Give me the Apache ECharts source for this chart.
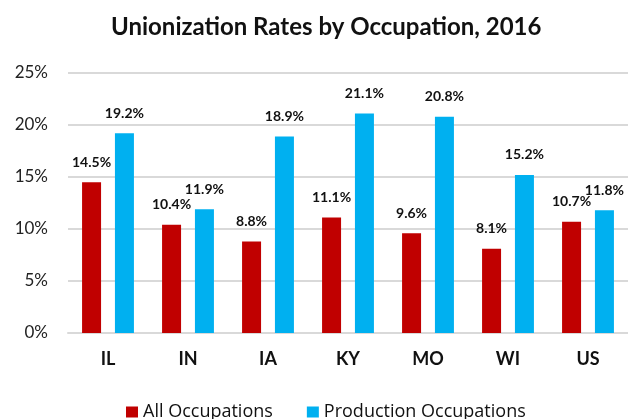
<!DOCTYPE html>
<html>
<head>
<meta charset="utf-8">
<script src="https://cdn.jsdelivr.net/npm/echarts@6/dist/echarts.min.js"></script>
<style>
  html, body { margin: 0; padding: 0; background: #fff; }
  #chart { width: 628px; height: 419px; }
</style>
</head>
<body>
<div id="chart"></div>
<script>
// 数据
var states = ['IL', 'IN', 'IA', 'KY', 'MO', 'WI', 'US'];
var allOccupations = [14.5, 10.4, 8.8, 11.1, 9.6, 8.1, 10.7];
var productionOccupations = [19.2, 11.9, 18.9, 21.1, 20.8, 15.2, 11.8];
var yTicks = [0, 5, 10, 15, 20, 25];

var font = 'Lato, "Open Sans", sans-serif';
var myChart = echarts.init(document.getElementById('chart'));

var labelStyle = {
    show: true,
    position: 'top',
    distance: 13,
    fontFamily: font,
    fontWeight: 'bold',
    fontSize: 14,
    color: '#111',
    formatter: function (p) { return p.value.toFixed(1) + '%'; }
};

var option = {
    animation: false,
    title: {
        text: 'Unionization Rates by Occupation, 2016',
        left: 106,
        top: 10,
        textStyle: { fontFamily: font, fontWeight: 'bold', fontSize: 24, color: '#111' }
    },
    grid: { left: 68, right: 0, top: 73, bottom: 86 },
    legend: {
        top: 398,
        left: 121,
        itemWidth: 12,
        itemHeight: 11,
        itemGap: 34,
        icon: 'rect',
        textStyle: { fontFamily: '"Open Sans", sans-serif', fontSize: 18, color: '#111' },
        data: ['All Occupations', 'Production Occupations']
    },
    xAxis: {
        type: 'category',
        data: states,
        axisTick: { show: false },
        axisLine: { lineStyle: { color: '#d9d9d9', width: 2 } },
        axisLabel: { fontFamily: font, fontWeight: 'bold', fontSize: 18, color: '#111', margin: 17 }
    },
    yAxis: {
        type: 'value',
        min: yTicks[0],
        max: yTicks[yTicks.length - 1],
        interval: 5,
        axisLabel: { fontFamily: font, fontSize: 17, color: '#222', margin: 20, formatter: '{value}%' },
        splitLine: { lineStyle: { color: '#d9d9d9', width: 2 } }
    },
    series: [{
        name: 'All Occupations',
        type: 'bar',
        data: allOccupations,
        barWidth: 19,
        barGap: '73%',
        itemStyle: { color: '#C00000' },
        label: labelStyle
    }, {
        name: 'Production Occupations',
        type: 'bar',
        data: productionOccupations,
        barWidth: 19,
        itemStyle: { color: '#00B0F0' },
        label: labelStyle
    }]
};
myChart.setOption(option);
</script>
</body>
</html>
